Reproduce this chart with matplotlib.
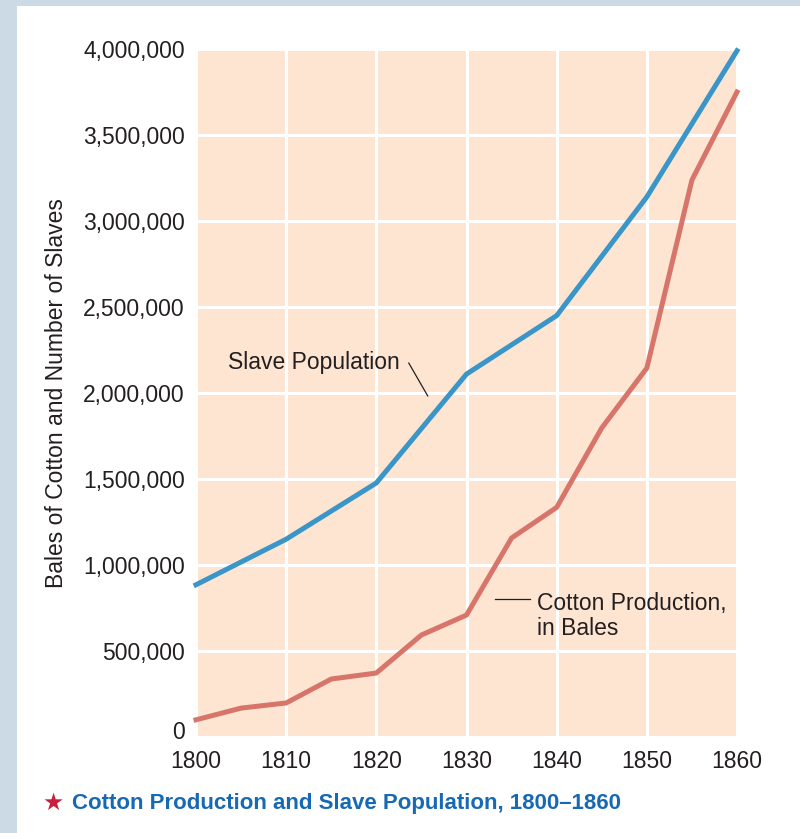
import matplotlib.pyplot as plt
from matplotlib.patches import Rectangle
from matplotlib.ticker import FuncFormatter
from matplotlib.transforms import ScaledTranslation

# slave population (census years)
slave_years = [1800, 1810, 1820, 1830, 1840, 1850, 1860]
slave_pop = [885000, 1150000, 1477000, 2110000, 2450000, 3140000, 3990000]

# cotton production in bales (every five years)
cotton_years = [1800, 1805, 1810, 1815, 1820, 1825, 1830, 1835, 1840, 1845, 1850, 1855, 1860]
cotton_bales = [100000, 168000, 198000, 337000, 372000, 593000, 709000,
                1157000, 1335000, 1797000, 2145000, 3238000, 3750000]

x_ticks = [1800, 1810, 1820, 1830, 1840, 1850, 1860]
y_ticks = [0, 500000, 1000000, 1500000, 2000000, 2500000, 3000000, 3500000, 4000000]

font = ['Liberation Sans', 'DejaVu Sans']
plt.rcParams['font.family'] = font
fs = 16.5
ink = '#231f20'

fig = plt.figure(figsize=(8, 8.33), dpi=100)
fig.patch.set_facecolor('#cbdae4')
# white panel behind everything
fig.patches.append(Rectangle((17 / 800, 0), 1, 1 - 6 / 833, transform=fig.transFigure,
                             facecolor='white', edgecolor='none', zorder=-10))

ax = fig.add_axes([196 / 800, 1 - 737 / 833, 541 / 800, 688 / 833])
ax.set_facecolor('#fde5d2')
ax.set_xlim(1800, 1860)
ax.set_ylim(0, 4000000)
ax.set_xticks(x_ticks)
ax.set_yticks(y_ticks)
ax.yaxis.set_major_formatter(FuncFormatter(lambda v, p: '0' if v == 0 else f'{int(v):,}'))
ax.grid(True, color='white', linewidth=2.2)
ax.set_axisbelow(True)
for s in ax.spines.values():
    s.set_visible(False)
ax.tick_params(length=0, labelsize=fs, labelcolor=ink, pad=8)
ax.tick_params(axis='x', pad=9)

# lift the "0" label a little so it clears "1800"
zero = ax.get_yticklabels()[0]
zero.set_transform(zero.get_transform() + ScaledTranslation(0, 5 / 72, fig.dpi_scale_trans))

ax.plot(slave_years, slave_pop, color='#3a96c8', linewidth=3.6, solid_joinstyle='miter', clip_on=False)
ax.plot(cotton_years, cotton_bales, color='#d8756a', linewidth=3.6, solid_joinstyle='miter', clip_on=False)

ax.set_ylabel('Bales of Cotton and Number of Slaves', fontsize=fs, color=ink, labelpad=11)

# labels with leader lines
ax.text(1803.5, 2175000, 'Slave Population', fontsize=fs, color=ink, va='center')
ax.plot([1823.6, 1825.7], [2174000, 1983000], color=ink, linewidth=0.9)
ax.text(1837.8, 842000, 'Cotton Production,\nin Bales', fontsize=fs, color=ink,
        va='top', linespacing=1.1)
ax.plot([1833.2, 1837.0], [802000, 802000], color=ink, linewidth=0.9)

fig.text(42 / 800, 1 - 803 / 833, '\u2605', fontsize=17, color='#c8203c', va='center',
         family=['DejaVu Sans'])
fig.text(72 / 800, 1 - 803 / 833, 'Cotton Production and Slave Population, 1800\u20131860',
         fontsize=16, fontweight='bold', color='#1769b3', va='center',
         family=['Liberation Sans Narrow', 'Liberation Sans', 'DejaVu Sans'])

fig.savefig('out.png', dpi=100)
